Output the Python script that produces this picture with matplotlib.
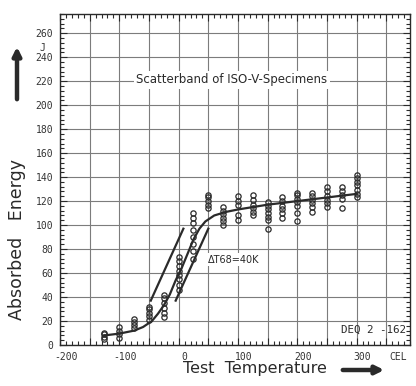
import matplotlib
matplotlib.use("Agg")
import matplotlib.pyplot as plt
import matplotlib.transforms as mtransforms
from matplotlib.ticker import FixedLocator, FixedFormatter, MultipleLocator

# ---- data ----
temps = [-125, -100, -75, -50, -25, 0, 25, 50, 75, 100, 125, 150, 175, 200, 225, 250, 275, 300]
energies = [
    [5, 7, 9, 10],
    [6, 9, 12, 15],
    [14, 17, 19, 22],
    [21, 24, 27, 30, 32],
    [23, 27, 31, 35, 39, 42],
    [46, 50, 55, 58, 62, 66, 70, 73],
    [72, 78, 84, 90, 96, 102, 106, 110],
    [114, 117, 120, 123, 125],
    [100, 103, 106, 109, 112, 115],
    [104, 108, 117, 120, 124],
    [108, 111, 114, 117, 121, 125],
    [97, 104, 107, 110, 113, 116, 119],
    [106, 110, 113, 116, 120, 123],
    [103, 110, 116, 119, 122, 125, 127],
    [111, 115, 118, 121, 124, 127],
    [115, 118, 121, 124, 128, 132],
    [114, 122, 125, 128, 132],
    [123, 126, 129, 133, 136, 139, 142],
]

curve_T = [-125, -100, -75, -60, -45, -35, -25, -15, -5, 5, 15, 25, 35, 45, 60, 80, 100, 150, 200, 250, 300]
curve_E = [8, 9.5, 12, 15, 20, 26, 33, 42, 54, 64, 76, 88, 97, 103, 108, 111, 113, 117, 120, 123, 126]

band_left_T = [-47, 8]
band_left_E = [37, 97]
band_right_T = [-5, 50]
band_right_E = [37, 97]

xtick_vals = [-200, -150, -100, -50, 0, 50, 100, 150, 200, 250, 300, 350]
xtick_labels = ["-200", "", "-100", "", "0", "", "100", "", "200", "", "300", "CEL"]
ytick_vals = list(range(0, 261, 20))
ytick_labels = [str(v) for v in ytick_vals]

# ---- figure ----
ink = "#2a2a2a"
gridc = "#7c7c7c"
fig = plt.figure(figsize=(4.16, 3.86), dpi=100)
ax = fig.add_axes([60 / 416, 41 / 386, 350 / 416, 331 / 386])
ax.set_xlim(-200, 390)
ax.set_ylim(0, 276)

ax.xaxis.set_major_locator(FixedLocator(xtick_vals))
ax.xaxis.set_major_formatter(FixedFormatter(xtick_labels))
ax.xaxis.set_minor_locator(MultipleLocator(10))
ax.yaxis.set_major_locator(FixedLocator(ytick_vals))
ax.yaxis.set_major_formatter(FixedFormatter(ytick_labels))
ax.yaxis.set_minor_locator(MultipleLocator(4))

ax.grid(True, which="major", color=gridc, linewidth=0.8)
ax.set_axisbelow(True)
for s in ax.spines.values():
    s.set_color(ink)
    s.set_linewidth(1.0)

ax.tick_params(which="both", direction="in", top=True, right=True, colors=ink,
               labelsize=7, width=0.8)
ax.tick_params(which="major", length=5, pad=5)
ax.tick_params(which="minor", length=3)
for lab in ax.get_xticklabels() + ax.get_yticklabels():
    lab.set_family("DejaVu Sans Mono")
    lab.set_color("#333333")
off = mtransforms.ScaledTranslation(6 / 100, 0, fig.dpi_scale_trans)
off_cel = mtransforms.ScaledTranslation(12 / 100, 0, fig.dpi_scale_trans)
for lab in ax.get_xticklabels():
    if lab.get_text() == "CEL":
        lab.set_transform(lab.get_transform() + off_cel)
    else:
        lab.set_transform(lab.get_transform() + off)

# scatter points
for t, es in zip(temps, energies):
    ax.plot([t] * len(es), es, linestyle="none", marker="o", markersize=3.8,
            markerfacecolor="none", markeredgecolor=ink, markeredgewidth=0.9, zorder=3)

# curves
ax.plot(curve_T, curve_E, color=ink, linewidth=1.6, zorder=4)
ax.plot(band_left_T, band_left_E, color=ink, linewidth=1.6, zorder=4)
ax.plot(band_right_T, band_right_E, color=ink, linewidth=1.6, zorder=4)

# annotations
ax.text(90, 221, "Scatterband of ISO-V-Specimens", ha="center", va="center",
        fontsize=8.5, color=ink, zorder=5,
        bbox=dict(facecolor="white", edgecolor="none", pad=2))
ax.text(92, 71, "\u0394T68=40K", ha="center", va="center", fontsize=7, color=ink,
        zorder=5, bbox=dict(facecolor="white", edgecolor="none", pad=1))
ax.text(329, 13, "DEQ 2 -162", ha="center", va="center", fontsize=7.8,
        family="DejaVu Sans Mono", color=ink, zorder=5)
fig.text(42 / 416, 1 - 48 / 386, "J", ha="center", va="center", fontsize=7,
         family="DejaVu Sans Mono", color="#333333")

# axis titles with arrows
fig.text(17 / 416, 1 - 240 / 386, "Absorbed   Energy", rotation=90, ha="center",
         va="center", fontsize=12.5, color=ink)
fig.text(255 / 416, 1 - 368 / 386, "Test  Temperature", ha="center", va="center",
         fontsize=11.5, color=ink)
ax.annotate("", xy=(17, 386 - 44), xytext=(17, 386 - 102), xycoords="figure pixels",
            textcoords="figure pixels",
            arrowprops=dict(arrowstyle="-|>", lw=3.2, color=ink, mutation_scale=12))
ax.annotate("", xy=(387, 386 - 370), xytext=(340, 386 - 370), xycoords="figure pixels",
            textcoords="figure pixels",
            arrowprops=dict(arrowstyle="-|>", lw=3.2, color=ink, mutation_scale=12))

fig.savefig("out.png", dpi=100, facecolor="white")
